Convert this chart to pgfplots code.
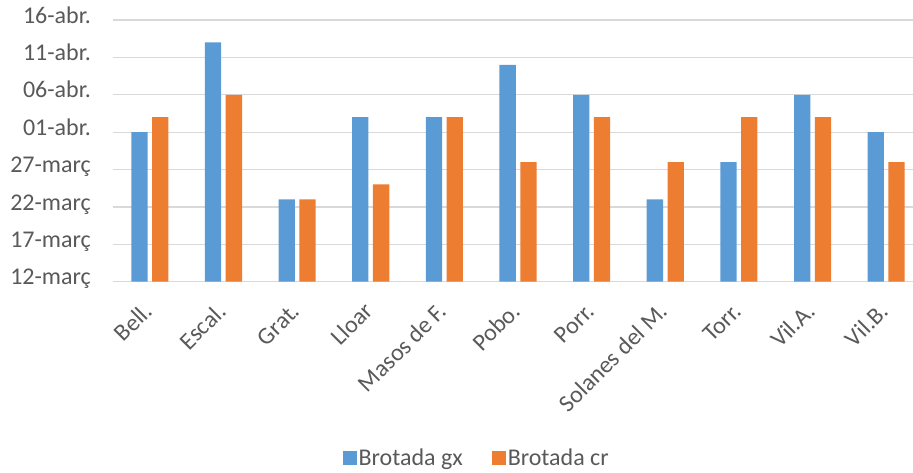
\documentclass[border=0pt]{standalone}
\usepackage{fontspec}
\setmainfont{Carlito}
\usepackage{pgfplots}
\pgfplotsset{compat=1.18}
\definecolor{gxblue}{HTML}{5B9BD5}
\definecolor{crorange}{HTML}{ED7D31}
\definecolor{txtgray}{HTML}{595959}
\definecolor{gridgray}{HTML}{D9D9D9}

\begin{document}
\begin{tikzpicture}
  \useasboundingbox (0bp,0bp) rectangle (913bp,473bp);
  \begin{axis}[
    at={(113bp,191.3bp)}, anchor=south west,
    scale only axis,
    width=810bp, height=261.7bp,
    ybar, bar width=16.3bp,
    xmin=-0.5, xmax=10.5,
    ymin=12, ymax=47,
    % y values: day number counted from 1 March (April = 31 + day)
    ytick={12,17,22,27,32,37,42,47},
    yticklabels={12-març,17-març,22-març,27-març,01-abr.,06-abr.,11-abr.,16-abr.},
    xtick={0,...,10},
    xticklabels={Bell.,Escal.,Grat.,Lloar,Masos de F.,Pobo.,Porr.,Solanes del M.,Torr.,Vil.A.,Vil.B.},
    major tick length=0pt,
    axis line style={draw=none},
    ymajorgrids,
    grid style={draw=gridgray, line width=1.3bp},
    tick label style={font=\fontsize{24bp}{28bp}\selectfont, text=txtgray},
    yticklabel style={anchor=base east, inner sep=0pt, xshift=-22bp, yshift=-0.31em},
    xticklabel style={xshift=4bp, yshift=-31bp, rotate=45, anchor=base east, inner sep=0pt},
    legend style={
      at={(0.449,-0.674)}, anchor=center,
      draw=none, fill=none,
      legend columns=2,
      font=\fontsize{24bp}{28bp}\selectfont, text=txtgray,
      inner sep=0pt,
      /tikz/every even column/.append style={column sep=27bp},
      legend cell align=left,
    },
    legend image code/.code={\fill[#1] (0bp,-7bp) rectangle (14bp,7bp);},
  ]
  \addplot[fill=gxblue, draw=none, bar shift=-10.4bp] coordinates {
    (0,32) (1,44) (2,23) (3,34) (4,34) (5,41) (6,37) (7,23) (8,28) (9,37) (10,32)
  };
  \addlegendentry{Brotada gx}
  \addplot[fill=crorange, draw=none, bar shift=10.4bp] coordinates {
    (0,34) (1,37) (2,23) (3,25) (4,34) (5,28) (6,34) (7,28) (8,34) (9,34) (10,28)
  };
  \addlegendentry{Brotada cr}
  \end{axis}
\end{tikzpicture}
\end{document}
